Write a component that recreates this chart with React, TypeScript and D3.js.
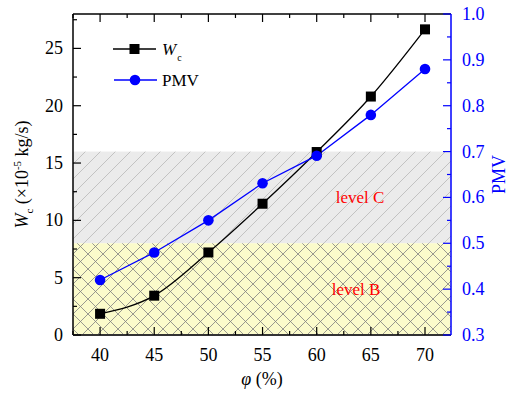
import React from 'react';
import * as d3 from 'd3';

const phi = [40, 45, 50, 55, 60, 65, 70];
const wc = [1.85, 3.43, 7.2, 11.45, 15.96, 20.8, 26.66];
const pmv = [0.42, 0.48, 0.55, 0.631, 0.691, 0.78, 0.88];
const xTicks = [40, 45, 50, 55, 60, 65, 70];
const leftTicks = [0, 5, 10, 15, 20, 25];
const rightTicks = [0.3, 0.4, 0.5, 0.6, 0.7, 0.8, 0.9, 1.0];
const levels = [
  { name: 'level B', lo: 0.3, hi: 0.5 },
  { name: 'level C', lo: 0.5, hi: 0.7 },
];

const W = 522;
const H = 396;
const m = { left: 73, right: 71, top: 14, bottom: 61 };
const font = 'Liberation Serif';

const App = () => {
  const iw = W - m.left - m.right;
  const ih = H - m.top - m.bottom;
  const x = d3.scaleLinear().domain([37.5, 72.4]).range([0, iw]);
  const yL = d3.scaleLinear().domain([0, 28]).range([ih, 0]);
  const yR = d3.scaleLinear().domain([0.3, 1.0]).range([ih, 0]);

  const wcLine = d3.line<number>()
    .x((_, i) => x(phi[i]))
    .y(d => yL(d))
    .curve(d3.curveMonotoneX)(wc) || '';
  const pmvLine = d3.line<number>()
    .x((_, i) => x(phi[i]))
    .y(d => yR(d))(pmv) || '';

  const xMinor = d3.range(37.5, 72.5, 2.5).filter(v => v % 5 !== 0 || v < 40);
  const lMinor = d3.range(2.5, 28, 5);
  const rMinor = d3.range(0.35, 1.0, 0.1);

  const lvB = levels[0];
  const lvC = levels[1];

  return (
    <svg width={W} height={H} fontFamily={font} style={{ position: 'absolute', left: 0, top: 0 }}>
      <defs>
        <pattern id="diag" width="15" height="15" patternUnits="userSpaceOnUse">
          <rect width="15" height="15" fill="#ebebeb" />
          <path d="M-1,16 L16,-1 M-4,4 L4,-4 M11,19 L19,11" stroke="#b0b0b0" strokeWidth="0.7" />
        </pattern>
        <pattern id="cross" width="15" height="15" patternUnits="userSpaceOnUse">
          <rect width="15" height="15" fill="#fbfbcb" />
          <path d="M0,15 L15,0 M0,0 L15,15" stroke="#808080" strokeWidth="0.8" />
        </pattern>
        <clipPath id="plot">
          <rect width={iw} height={ih} />
        </clipPath>
      </defs>
      <g transform={`translate(${m.left},${m.top})`}>
        <rect x={0} y={yR(lvC.hi)} width={iw} height={yR(lvC.lo) - yR(lvC.hi)} fill="url(#diag)" />
        <rect x={0} y={yR(lvB.hi)} width={iw} height={yR(lvB.lo) - yR(lvB.hi)} fill="url(#cross)" />
        <text x={287} y={yR(0.6) + 6} fill="red" fontSize={17} textAnchor="middle">{lvC.name}</text>
        <text x={283} y={yR(0.4) + 6} fill="red" fontSize={17} textAnchor="middle">{lvB.name}</text>

        <g clipPath="url(#plot)">
          <path d={wcLine} fill="none" stroke="black" strokeWidth={1.3} />
          <path d={pmvLine} fill="none" stroke="blue" strokeWidth={1.3} />
        </g>
        {wc.map((v, i) => (
          <rect key={'s' + i} x={x(phi[i]) - 5} y={yL(v) - 5} width={10} height={10} fill="black" />
        ))}
        {pmv.map((v, i) => (
          <circle key={'c' + i} cx={x(phi[i])} cy={yR(v)} r={5.3} fill="blue" />
        ))}

        {/* frame */}
        <line x1={0} x2={iw} y1={0} y2={0} stroke="black" strokeWidth={1.3} />
        <line x1={0} x2={0} y1={0} y2={ih} stroke="black" strokeWidth={1.5} />
        <line x1={0} x2={iw} y1={ih} y2={ih} stroke="#333" strokeWidth={2} />
        <line x1={iw} x2={iw} y1={0} y2={ih} stroke="blue" strokeWidth={1.5} />

        {/* x ticks */}
        {xTicks.map(t => (
          <g key={'x' + t}>
            <line x1={x(t)} x2={x(t)} y1={ih} y2={ih - 8} stroke="black" strokeWidth={1.2} />
            <line x1={x(t)} x2={x(t)} y1={0} y2={8} stroke="black" strokeWidth={1.2} />
            <text x={x(t)} y={ih + 26} fontSize={18} textAnchor="middle">{t}</text>
          </g>
        ))}
        {xMinor.map(t => (
          <g key={'xm' + t}>
            <line x1={x(t)} x2={x(t)} y1={ih} y2={ih - 4} stroke="black" strokeWidth={1.2} />
            <line x1={x(t)} x2={x(t)} y1={0} y2={4} stroke="black" strokeWidth={1.2} />
          </g>
        ))}

        {/* left ticks */}
        {leftTicks.map(t => (
          <g key={'l' + t}>
            <line x1={0} x2={8} y1={yL(t)} y2={yL(t)} stroke="black" strokeWidth={1.2} />
            <text x={-10} y={yL(t) + 6} fontSize={18} textAnchor="end">{t}</text>
          </g>
        ))}
        {lMinor.map(t => (
          <line key={'lm' + t} x1={0} x2={4} y1={yL(t)} y2={yL(t)} stroke="black" strokeWidth={1.2} />
        ))}

        {/* right ticks */}
        {rightTicks.map(t => (
          <g key={'r' + t}>
            <line x1={iw} x2={iw - 8} y1={yR(t)} y2={yR(t)} stroke="blue" strokeWidth={1.2} />
            <text x={iw + 11} y={yR(t) + 6} fontSize={18} fill="blue">{t.toFixed(1)}</text>
          </g>
        ))}
        {rMinor.map(t => (
          <line key={'rm' + t} x1={iw} x2={iw - 4} y1={yR(t)} y2={yR(t)} stroke="blue" strokeWidth={1.2} />
        ))}

        {/* legend */}
        <line x1={40} x2={83} y1={35} y2={35} stroke="black" strokeWidth={1.3} />
        <rect x={56.5} y={30} width={10} height={10} fill="black" />
        <text x={89} y={41} fontSize={17}><tspan fontStyle="italic">W</tspan><tspan fontSize={10} dy={6} dx={1}>c</tspan></text>
        <line x1={41} x2={84} y1={66} y2={66} stroke="blue" strokeWidth={1.3} />
        <circle cx={62} cy={66} r={5.3} fill="blue" />
        <text x={89} y={72} fontSize={17}>PMV</text>
      </g>

      {/* axis titles */}
      <text transform={`translate(${m.left + iw / 2},${H - 11})`} fontSize={18} textAnchor="middle">
        <tspan fontStyle="italic">φ</tspan> (%)
      </text>
      <text transform={`translate(28,${m.top + ih / 2}) rotate(-90)`} fontSize={18} textAnchor="middle">
        <tspan fontStyle="italic">W</tspan><tspan fontSize={11} dy={5}>c</tspan><tspan dy={-5}> (×10</tspan><tspan fontSize={11} dy={-7}>-5</tspan><tspan dy={7}> kg/s)</tspan>
      </text>
      <text transform={`translate(505,${m.top + ih / 2}) rotate(-90)`} fontSize={18} fill="blue" textAnchor="middle">PMV</text>
    </svg>
  );
};

export default App;
